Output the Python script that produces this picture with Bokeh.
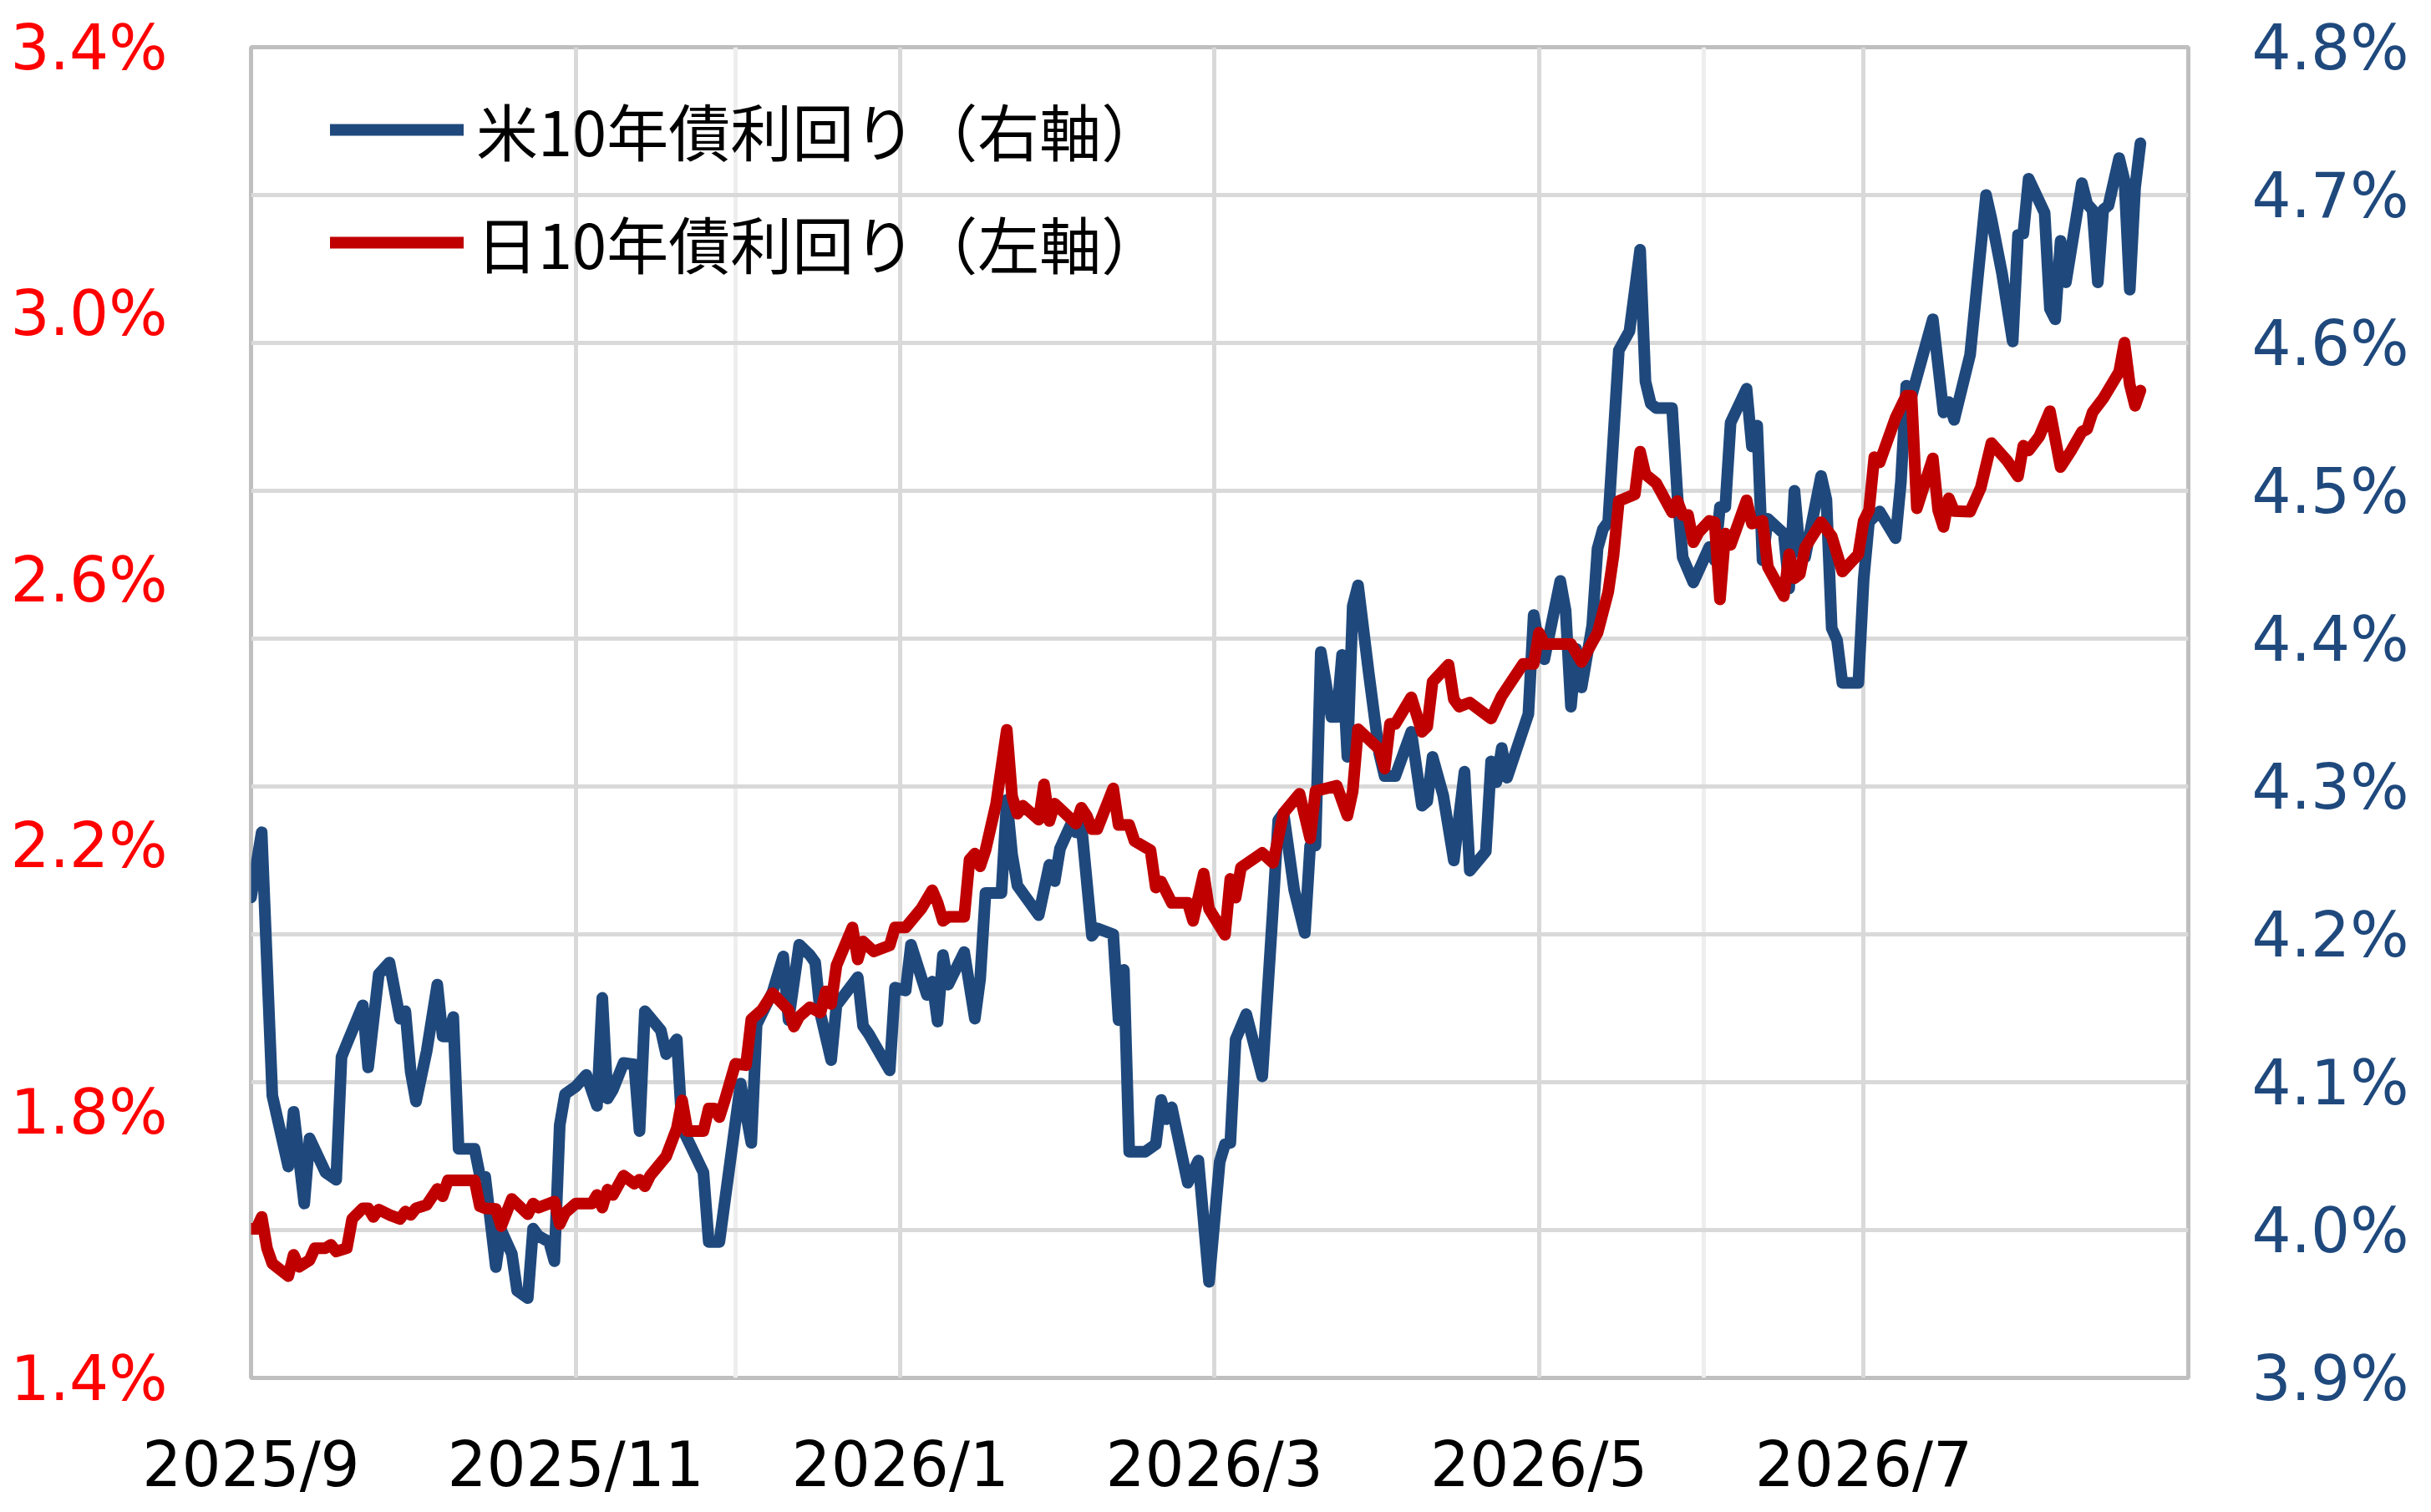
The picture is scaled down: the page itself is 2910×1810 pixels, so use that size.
import pandas as pd
from bokeh.plotting import figure
from bokeh.models import (Range1d, LinearAxis, FixedTicker, PrintfTickFormatter, Grid,
                          Legend, LegendItem, ColumnDataSource)
from bokeh.embed import file_html
from bokeh.resources import INLINE

# ---------------- data ----------------
us_dates = [
    "2025-09-01", "2025-09-03", "2025-09-05", "2025-09-08", "2025-09-09", "2025-09-11", "2025-09-12",
    "2025-09-15", "2025-09-17", "2025-09-18", "2025-09-19", "2025-09-22", "2025-09-23", "2025-09-25",
    "2025-09-27", "2025-09-29", "2025-09-30", "2025-10-01", "2025-10-02", "2025-10-04", "2025-10-06",
    "2025-10-07", "2025-10-08", "2025-10-09", "2025-10-10", "2025-10-13", "2025-10-14", "2025-10-15",
    "2025-10-17", "2025-10-18", "2025-10-20", "2025-10-21", "2025-10-23", "2025-10-24", "2025-10-25",
    "2025-10-27", "2025-10-28", "2025-10-29", "2025-10-30", "2025-11-01", "2025-11-03", "2025-11-05",
    "2025-11-06", "2025-11-07", "2025-11-08", "2025-11-10", "2025-11-12", "2025-11-13", "2025-11-14",
    "2025-11-17", "2025-11-18", "2025-11-20", "2025-11-21", "2025-11-25", "2025-11-26", "2025-11-28",
    "2025-12-02", "2025-12-04", "2025-12-05", "2025-12-08", "2025-12-10", "2025-12-11", "2025-12-13",
    "2025-12-15", "2025-12-16", "2025-12-17", "2025-12-19", "2025-12-20", "2025-12-24", "2025-12-25",
    "2025-12-26", "2025-12-30", "2025-12-31", "2026-01-02", "2026-01-03", "2026-01-06", "2026-01-07",
    "2026-01-08", "2026-01-09", "2026-01-10", "2026-01-13", "2026-01-15", "2026-01-16", "2026-01-17",
    "2026-01-20", "2026-01-21", "2026-01-22", "2026-01-23", "2026-01-27", "2026-01-29", "2026-01-30",
    "2026-01-31", "2026-02-02", "2026-02-03", "2026-02-04", "2026-02-06", "2026-02-07", "2026-02-10",
    "2026-02-11", "2026-02-12", "2026-02-13", "2026-02-16", "2026-02-18", "2026-02-19", "2026-02-20",
    "2026-02-21", "2026-02-24", "2026-02-26", "2026-02-28", "2026-03-02", "2026-03-03", "2026-03-04",
    "2026-03-05", "2026-03-07", "2026-03-10", "2026-03-12", "2026-03-13", "2026-03-14", "2026-03-16",
    "2026-03-18", "2026-03-19", "2026-03-20", "2026-03-21", "2026-03-23", "2026-03-24", "2026-03-25",
    "2026-03-26", "2026-03-27", "2026-03-28", "2026-03-30", "2026-04-01", "2026-04-02", "2026-04-04",
    "2026-04-07", "2026-04-09", "2026-04-10", "2026-04-11", "2026-04-13", "2026-04-15", "2026-04-17",
    "2026-04-18", "2026-04-21", "2026-04-22", "2026-04-23", "2026-04-24", "2026-04-25", "2026-04-29",
    "2026-04-30", "2026-05-01", "2026-05-02", "2026-05-05", "2026-05-06", "2026-05-07", "2026-05-08",
    "2026-05-09", "2026-05-11", "2026-05-12", "2026-05-13", "2026-05-14", "2026-05-16", "2026-05-18",
    "2026-05-20", "2026-05-21", "2026-05-22", "2026-05-23", "2026-05-26", "2026-05-27", "2026-05-28",
    "2026-05-30", "2026-06-02", "2026-06-03", "2026-06-04", "2026-06-05", "2026-06-06", "2026-06-09",
    "2026-06-10", "2026-06-11", "2026-06-12", "2026-06-13", "2026-06-16", "2026-06-17", "2026-06-18",
    "2026-06-19", "2026-06-20", "2026-06-23", "2026-06-24", "2026-06-25", "2026-06-26", "2026-06-27",
    "2026-06-30", "2026-07-01", "2026-07-02", "2026-07-04", "2026-07-07", "2026-07-08", "2026-07-09",
    "2026-07-10", "2026-07-14", "2026-07-16", "2026-07-17", "2026-07-18", "2026-07-21", "2026-07-24",
    "2026-07-25", "2026-07-27", "2026-07-29", "2026-07-30", "2026-07-31", "2026-08-01", "2026-08-04",
    "2026-08-05", "2026-08-06", "2026-08-07", "2026-08-08", "2026-08-11", "2026-08-12", "2026-08-13",
    "2026-08-14", "2026-08-15", "2026-08-16", "2026-08-18", "2026-08-19", "2026-08-20", "2026-08-21",
    "2026-08-22",
]
us_yield = [
    4.225, 4.269, 4.091, 4.043, 4.080, 4.018, 4.062,
    4.039, 4.034, 4.117, 4.126, 4.152, 4.110, 4.173,
    4.181, 4.143, 4.148, 4.107, 4.087, 4.121, 4.166,
    4.131, 4.131, 4.144, 4.055, 4.055, 4.037, 4.036,
    3.975, 4.000, 3.984, 3.959, 3.954, 4.001, 3.996,
    3.992, 3.979, 4.071, 4.092, 4.097, 4.105, 4.084,
    4.157, 4.089, 4.095, 4.113, 4.112, 4.067, 4.148,
    4.135, 4.119, 4.129, 4.069, 4.039, 3.992, 3.992,
    4.099, 4.059, 4.139, 4.161, 4.185, 4.142, 4.193,
    4.186, 4.181, 4.146, 4.115, 4.152, 4.171, 4.138,
    4.133, 4.108, 4.164, 4.162, 4.193, 4.159, 4.168,
    4.141, 4.186, 4.166, 4.188, 4.143, 4.170, 4.228,
    4.228, 4.291, 4.254, 4.233, 4.213, 4.247, 4.236,
    4.258, 4.274, 4.269, 4.275, 4.199, 4.204, 4.200,
    4.142, 4.176, 4.053, 4.053, 4.058, 4.088, 4.075,
    4.083, 4.032, 4.047, 3.965, 4.046, 4.058, 4.059,
    4.129, 4.146, 4.104, 4.217, 4.277, 4.282, 4.230,
    4.201, 4.260, 4.260, 4.391, 4.347, 4.347, 4.389,
    4.320, 4.422, 4.436, 4.377, 4.322, 4.307, 4.307,
    4.337, 4.287, 4.290, 4.320, 4.294, 4.250, 4.310,
    4.243, 4.256, 4.317, 4.303, 4.326, 4.306, 4.349,
    4.416, 4.396, 4.386, 4.439, 4.419, 4.354, 4.393,
    4.367, 4.409, 4.461, 4.474, 4.479, 4.595, 4.608,
    4.663, 4.574, 4.559, 4.556, 4.556, 4.497, 4.455,
    4.438, 4.462, 4.453, 4.489, 4.489, 4.546, 4.569,
    4.530, 4.544, 4.453, 4.481, 4.471, 4.434, 4.500,
    4.459, 4.455, 4.510, 4.494, 4.407, 4.399, 4.370,
    4.370, 4.440, 4.479, 4.486, 4.468, 4.506, 4.571,
    4.564, 4.616, 4.553, 4.560, 4.548, 4.592, 4.700,
    4.684, 4.647, 4.601, 4.673, 4.674, 4.711, 4.688,
    4.623, 4.616, 4.669, 4.641, 4.708, 4.694, 4.690,
    4.641, 4.690, 4.693, 4.725, 4.710, 4.636, 4.705,
    4.735,
]

jp_dates = [
    "2025-09-01", "2025-09-02", "2025-09-03", "2025-09-04", "2025-09-05", "2025-09-08", "2025-09-09",
    "2025-09-10", "2025-09-12", "2025-09-13", "2025-09-15", "2025-09-16", "2025-09-17", "2025-09-19",
    "2025-09-20", "2025-09-22", "2025-09-23", "2025-09-24", "2025-09-25", "2025-09-27", "2025-09-29",
    "2025-09-30", "2025-10-01", "2025-10-02", "2025-10-04", "2025-10-06", "2025-10-07", "2025-10-08",
    "2025-10-13", "2025-10-14", "2025-10-15", "2025-10-17", "2025-10-18", "2025-10-20", "2025-10-23",
    "2025-10-24", "2025-10-25", "2025-10-28", "2025-10-29", "2025-10-30", "2025-11-01", "2025-11-04",
    "2025-11-05", "2025-11-06", "2025-11-07", "2025-11-08", "2025-11-10", "2025-11-12", "2025-11-13",
    "2025-11-14", "2025-11-15", "2025-11-18", "2025-11-20", "2025-11-21", "2025-11-22", "2025-11-25",
    "2025-11-26", "2025-11-27", "2025-11-28", "2025-11-29", "2025-12-01", "2025-12-03", "2025-12-04",
    "2025-12-06", "2025-12-08", "2025-12-11", "2025-12-12", "2025-12-13", "2025-12-15", "2025-12-17",
    "2025-12-18", "2025-12-19", "2025-12-20", "2025-12-23", "2025-12-24", "2025-12-25", "2025-12-27",
    "2025-12-30", "2025-12-31", "2026-01-02", "2026-01-05", "2026-01-07", "2026-01-08", "2026-01-09",
    "2026-01-10", "2026-01-13", "2026-01-14", "2026-01-15", "2026-01-16", "2026-01-17", "2026-01-19",
    "2026-01-21", "2026-01-22", "2026-01-23", "2026-01-24", "2026-01-27", "2026-01-28", "2026-01-29",
    "2026-01-30", "2026-02-03", "2026-02-04", "2026-02-05", "2026-02-06", "2026-02-07", "2026-02-10",
    "2026-02-11", "2026-02-13", "2026-02-14", "2026-02-17", "2026-02-18", "2026-02-19", "2026-02-21",
    "2026-02-24", "2026-02-25", "2026-02-27", "2026-02-28", "2026-03-03", "2026-03-04", "2026-03-05",
    "2026-03-06", "2026-03-10", "2026-03-12", "2026-03-14", "2026-03-17", "2026-03-19", "2026-03-20",
    "2026-03-24", "2026-03-26", "2026-03-27", "2026-03-28", "2026-04-01", "2026-04-02", "2026-04-03",
    "2026-04-04", "2026-04-07", "2026-04-09", "2026-04-10", "2026-04-11", "2026-04-14", "2026-04-15",
    "2026-04-16", "2026-04-18", "2026-04-22", "2026-04-24", "2026-04-28", "2026-04-30", "2026-05-01",
    "2026-05-02", "2026-05-07", "2026-05-09", "2026-05-12", "2026-05-14", "2026-05-15", "2026-05-16",
    "2026-05-19", "2026-05-20", "2026-05-21", "2026-05-23", "2026-05-26", "2026-05-27", "2026-05-28",
    "2026-05-29", "2026-05-30", "2026-05-31", "2026-06-02", "2026-06-03", "2026-06-04", "2026-06-05",
    "2026-06-06", "2026-06-09", "2026-06-10", "2026-06-12", "2026-06-13", "2026-06-16", "2026-06-17",
    "2026-06-18", "2026-06-19", "2026-06-20", "2026-06-23", "2026-06-25", "2026-06-27", "2026-06-30",
    "2026-07-01", "2026-07-02", "2026-07-03", "2026-07-04", "2026-07-07", "2026-07-09", "2026-07-10",
    "2026-07-11", "2026-07-14", "2026-07-15", "2026-07-16", "2026-07-17", "2026-07-18", "2026-07-21",
    "2026-07-23", "2026-07-25", "2026-07-28", "2026-07-30", "2026-07-31", "2026-08-01", "2026-08-03",
    "2026-08-05", "2026-08-07", "2026-08-09", "2026-08-11", "2026-08-12", "2026-08-13", "2026-08-15",
    "2026-08-18", "2026-08-19", "2026-08-20", "2026-08-21", "2026-08-22",
]
jp_yield = [
    1.624, 1.624, 1.642, 1.595, 1.572, 1.553, 1.585,
    1.567, 1.577, 1.595, 1.595, 1.600, 1.590, 1.595,
    1.639, 1.655, 1.655, 1.642, 1.653, 1.645, 1.639,
    1.650, 1.645, 1.655, 1.660, 1.684, 1.673, 1.697,
    1.697, 1.658, 1.655, 1.654, 1.628, 1.669, 1.646,
    1.662, 1.656, 1.665, 1.631, 1.648, 1.662, 1.662,
    1.675, 1.656, 1.683, 1.675, 1.704, 1.692, 1.698,
    1.688, 1.704, 1.733, 1.775, 1.817, 1.771, 1.771,
    1.805, 1.805, 1.792, 1.817, 1.872, 1.870, 1.939,
    1.953, 1.978, 1.953, 1.928, 1.943, 1.957, 1.949,
    1.981, 1.962, 2.020, 2.077, 2.029, 2.056, 2.041,
    2.050, 2.077, 2.077, 2.106, 2.133, 2.114, 2.087,
    2.093, 2.093, 2.179, 2.188, 2.169, 2.193, 2.263,
    2.374, 2.274, 2.248, 2.260, 2.239, 2.292, 2.237,
    2.263, 2.233, 2.257, 2.245, 2.225, 2.225, 2.286,
    2.231, 2.231, 2.207, 2.193, 2.137, 2.146, 2.114,
    2.114, 2.087, 2.158, 2.105, 2.066, 2.150, 2.122,
    2.167, 2.189, 2.174, 2.249, 2.278, 2.211, 2.282,
    2.290, 2.245, 2.282, 2.375, 2.345, 2.316, 2.383,
    2.383, 2.423, 2.371, 2.379, 2.446, 2.472, 2.420,
    2.409, 2.415, 2.391, 2.425, 2.473, 2.473, 2.520,
    2.503, 2.503, 2.476, 2.520, 2.581, 2.636, 2.718,
    2.728, 2.792, 2.758, 2.745, 2.701, 2.718, 2.697,
    2.697, 2.656, 2.671, 2.688, 2.686, 2.570, 2.669,
    2.652, 2.719, 2.684, 2.688, 2.619, 2.575, 2.638,
    2.602, 2.608, 2.648, 2.686, 2.665, 2.612, 2.638,
    2.688, 2.704, 2.784, 2.776, 2.843, 2.876, 2.876,
    2.707, 2.782, 2.704, 2.679, 2.722, 2.703, 2.702,
    2.738, 2.805, 2.778, 2.755, 2.801, 2.794, 2.815,
    2.853, 2.769, 2.794, 2.822, 2.826, 2.851, 2.872,
    2.912, 2.956, 2.893, 2.861, 2.884,
]

series_names = ["米10年債利回り（右軸）", "日10年債利回り（左軸）"]
left_ticks = [1.4, 1.8, 2.2, 2.6, 3.0, 3.4]
right_ticks = [3.9, 4.0, 4.1, 4.2, 4.3, 4.4, 4.5, 4.6, 4.7, 4.8]
x_tick_dates = ["2025-09-01", "2025-11-01", "2026-01-01", "2026-03-01", "2026-05-01", "2026-07-01"]
x_tick_labels = ["2025/9", "2025/11", "2026/1", "2026/3", "2026/5", "2026/7"]
light_grid_dates = ["2025-12-01", "2026-06-01"]
x_start, x_end = "2025-09-01", "2026-08-31"

BLUE = "#1F497D"
DARK_RED = "#C00000"
LABEL_RED = "#FF0000"
FONT = "DejaVu Sans"
JP_FONT = "Noto Sans CJK JP"


def to_ms(dates):
    s = pd.to_datetime(pd.Series(dates))
    return [int((d - pd.Timestamp("1970-01-01")) / pd.Timedelta(milliseconds=1)) for d in s]


us_src = ColumnDataSource(dict(date=pd.to_datetime(pd.Series(us_dates)), y=us_yield))
jp_src = ColumnDataSource(dict(date=pd.to_datetime(pd.Series(jp_dates)), y=jp_yield))

p = figure(width=2900, height=1800, x_axis_type="datetime",
           output_backend="svg", toolbar_location=None,
           x_range=Range1d(pd.Timestamp(x_start), pd.Timestamp(x_end)),
           y_range=Range1d(left_ticks[0], left_ticks[-1]),
           min_border_left=300, min_border_right=281, min_border_top=56, min_border_bottom=151)
p.extra_y_ranges = {"us": Range1d(right_ticks[0], right_ticks[-1])}
p.background_fill_color = "white"
p.border_fill_color = "white"
p.outline_line_color = "#BFBFBF"
p.outline_line_width = 5

p.xgrid.visible = False
p.ygrid.visible = False

x_tick_ms = to_ms(x_tick_dates)
light_ms = to_ms(light_grid_dates)

hgrid = Grid(dimension=1, ticker=FixedTicker(ticks=right_ticks), y_range_name="us",
             grid_line_color="#D9D9D9", grid_line_width=5)
vgrid = Grid(dimension=0, ticker=FixedTicker(ticks=x_tick_ms),
             grid_line_color="#D9D9D9", grid_line_width=5)
vgrid_light = Grid(dimension=0, ticker=FixedTicker(ticks=light_ms),
                   grid_line_color="#EEEEEE", grid_line_width=5)
p.add_layout(vgrid_light)
p.add_layout(vgrid)
p.add_layout(hgrid)

# left axis (Japan)
ya = p.yaxis[0]
ya.ticker = FixedTicker(ticks=left_ticks)
ya.formatter = PrintfTickFormatter(format="%.1f%%")
ya.major_label_text_color = LABEL_RED
ya.major_label_text_font = FONT
ya.major_label_text_font_size = "74px"
ya.axis_line_color = None
ya.major_tick_line_color = None
ya.minor_tick_line_color = None
ya.major_tick_out = 0
ya.major_tick_in = 0
ya.minor_tick_out = 0
ya.major_label_standoff = 100

# right axis (US)
ra = LinearAxis(y_range_name="us", ticker=FixedTicker(ticks=right_ticks),
                formatter=PrintfTickFormatter(format="%.1f%%"))
ra.major_label_text_color = BLUE
ra.major_label_text_font = FONT
ra.major_label_text_font_size = "74px"
ra.axis_line_color = None
ra.major_tick_line_color = None
ra.minor_tick_line_color = None
ra.major_tick_out = 0
ra.major_tick_in = 0
ra.minor_tick_out = 0
ra.major_label_standoff = 76
p.add_layout(ra, "right")

# x axis
xa = p.xaxis[0]
xa.ticker = FixedTicker(ticks=x_tick_ms)
xa.major_label_overrides = {ms: lab for ms, lab in zip(x_tick_ms, x_tick_labels)}
xa.major_label_text_color = "black"
xa.major_label_text_font = FONT
xa.major_label_text_font_size = "74px"
xa.axis_line_color = None
xa.major_tick_line_color = None
xa.minor_tick_line_color = None
xa.major_tick_out = 0
xa.major_tick_in = 0
xa.minor_tick_out = 0
xa.major_label_standoff = 60

us_line = p.line("date", "y", source=us_src, y_range_name="us", line_color=BLUE,
                 line_width=14, line_join="round", line_cap="round")
jp_line = p.line("date", "y", source=jp_src, line_color=DARK_RED,
                 line_width=14, line_join="round", line_cap="round")

legend = Legend(items=[LegendItem(label=series_names[0], renderers=[us_line]),
                       LegendItem(label=series_names[1], renderers=[jp_line])],
                location=(95, 1306), orientation="vertical",
                label_text_font=JP_FONT, label_text_font_size="74px", label_text_color="black",
                glyph_width=160, glyph_height=86, label_height=86, spacing=28,
                label_standoff=15, padding=0, margin=0,
                border_line_color=None, background_fill_alpha=0)
p.add_layout(legend)

open("out.html", "w").write(file_html(p, INLINE))
